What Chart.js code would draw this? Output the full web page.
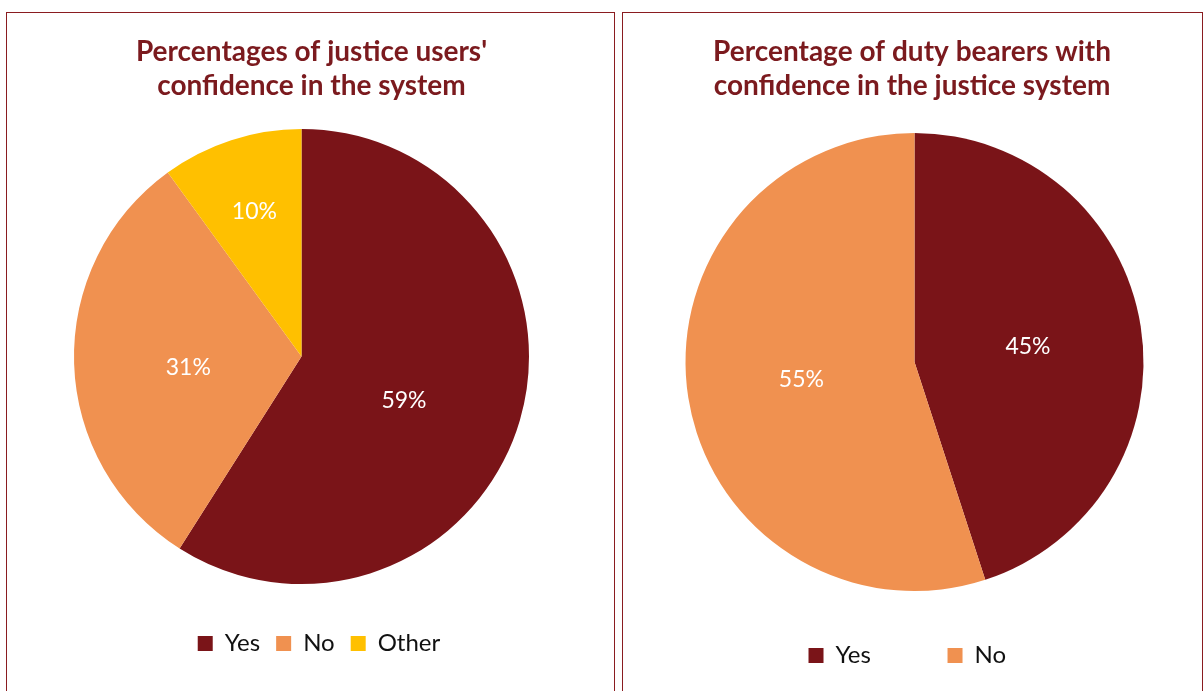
<!DOCTYPE html>
<html>
<head>
<meta charset="utf-8">
<script src="https://cdn.jsdelivr.net/npm/chart.js@4.4.1/dist/chart.umd.min.js"></script>
<style>
  html, body { margin: 0; padding: 0; background: #fff; overflow: hidden; }
  body { width: 1203px; height: 691px; position: relative; }
  .panel { position: absolute; top: 12px; height: 700px; border: 1px solid #8a1c20; }
  #usersPanel { left: 6px; width: 607px; }
  #bearersPanel { left: 622px; width: 579px; }
  .plot { position: relative; height: 678px; }
</style>
</head>
<body>
<div class="panel" id="usersPanel"><div class="plot"><canvas id="users"></canvas></div></div>
<div class="panel" id="bearersPanel"><div class="plot"><canvas id="bearers"></canvas></div></div>
<script>
// justice users
const userTitle = ["Percentages of justice users'", 'confidence in the system'];
const userLabels = ['Yes', 'No', 'Other'];
const userShares = [59, 31, 10];

// duty bearers
const bearerTitle = ['Percentage of duty bearers with', 'confidence in the justice system'];
const bearerLabels = ['Yes', 'No'];
const bearerShares = [45, 55];

const DARK_RED = '#7a1418';
const ORANGE = '#f09150';
const GOLD = '#ffc000';
const TITLE_RED = '#7b1a1e';

// move the title / legend blocks a few px after layout
const nudge = {
  id: 'nudge',
  afterLayout(chart, args, opts) {
    const shift = (box, dx, dy) => {
      if (!box) return;
      box.left += dx || 0; box.right += dx || 0;
      box.top += dy || 0; box.bottom += dy || 0;
    };
    shift(chart.titleBlock, opts.titleDx, opts.titleDy);
    shift(chart.legend, opts.legendDx, opts.legendDy);
  }
};

// percentage text inside each slice
const sliceLabels = {
  id: 'sliceLabels',
  afterDatasetsDraw(chart, args, opts) {
    const ctx = chart.ctx;
    const values = chart.data.datasets[0].data;
    const radii = opts.radii || [];
    const turns = opts.turns || [];
    ctx.save();
    ctx.font = '23px Lato';
    ctx.fillStyle = '#ffffff';
    ctx.textAlign = 'center';
    ctx.textBaseline = 'middle';
    chart.getDatasetMeta(0).data.forEach((arc, i) => {
      const p = arc.getProps(['x', 'y', 'startAngle', 'endAngle', 'outerRadius'], true);
      const mid = (p.startAngle + p.endAngle) / 2 + (turns[i] || 0) * Math.PI / 180;
      const d = p.outerRadius * (radii[i] || 0.5);
      ctx.fillText(values[i] + '%', p.x + Math.cos(mid) * d, p.y + Math.sin(mid) * d);
    });
    ctx.restore();
  }
};

function pieChart(id, title, labels, values, colors, cfg) {
  return new Chart(document.getElementById(id), {
    type: 'pie',
    data: {
      labels: labels,
      datasets: [{
        data: values,
        backgroundColor: colors,
        borderWidth: 0,
        radius: cfg.radius
      }]
    },
    options: {
      responsive: true,
      maintainAspectRatio: false,
      animation: false,
      layout: { padding: cfg.padding },
      plugins: {
        title: {
          display: true,
          text: title,
          color: TITLE_RED,
          font: { family: 'Lato', size: 28, weight: 'bold', lineHeight: 34 / 28 },
          padding: cfg.titlePadding
        },
        legend: {
          position: 'bottom',
          labels: {
            boxWidth: 15,
            boxHeight: 15,
            padding: cfg.legendGap,
            color: '#111111',
            font: { family: 'Lato', size: 24 }
          }
        },
        tooltip: { enabled: false },
        nudge: cfg.nudge,
        sliceLabels: { radii: cfg.labelRadii, turns: cfg.labelTurns }
      }
    },
    plugins: [nudge, sliceLabels]
  });
}

pieChart('users', userTitle, userLabels, userShares, [DARK_RED, ORANGE, GOLD], {
  radius: 227.5,
  padding: { top: 0, right: 18, bottom: 25.5, left: 0 },
  titlePadding: { top: 16.5, bottom: 0 },
  legendGap: 16,
  nudge: { titleDx: 10, titleDy: 5.5, legendDx: 17.5 },
  labelRadii: [0.49, 0.5, 0.67],
  labelTurns: [7, -4, 0]
});

pieChart('bearers', bearerTitle, bearerLabels, bearerShares, [DARK_RED, ORANGE], {
  radius: 229,
  padding: { top: 0, right: 0, bottom: 13.5, left: 4 },
  titlePadding: { top: 22, bottom: 54.1 },
  legendGap: 76.6,
  nudge: { titleDx: -2.5, legendDx: -7.2 },
  labelRadii: [0.5, 0.5],
  labelTurns: [1.3, 0]
});
</script>
</body>
</html>
